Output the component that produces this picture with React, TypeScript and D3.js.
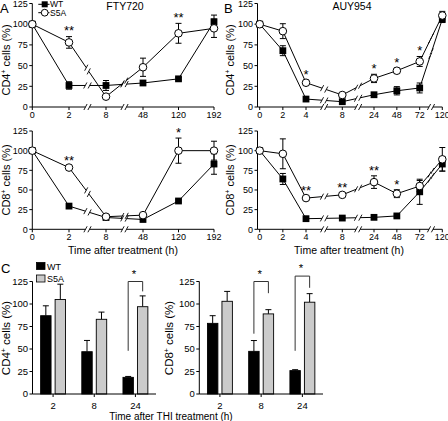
import React from "react";
import * as d3 from "d3";

const FONT = "'Liberation Sans', Arial, Helvetica, sans-serif";

// ---------- Panel A : FTY720 ----------
const ftyTimes = [0, 2, 8, 48, 120, 192];
const ftyBreaks = [[2, 8], [8, 48]];
const ftyCD4WT = [100, 26, 26, 29, 34, 103];
const ftyCD4WTErr = [0, 4.5, 6, 2, 1.5, 8];
const ftyCD4S5A = [100, 78, 12.5, 48, 89, 95];
const ftyCD4S5AErr = [0, 7, 2, 11, 12, 11];
const ftyCD4Stars = ["", "**", "", "", "**", ""];
const ftyCD8WT = [100, 29.5, 15, 12.5, 36, 83];
const ftyCD8WTErr = [0, 1.5, 1, 2, 1.5, 13];
const ftyCD8S5A = [100, 78.5, 16, 18, 100, 100];
const ftyCD8S5AErr = [0, 2, 2, 2, 16, 12];
const ftyCD8Stars = ["", "**", "", "", "*", ""];

// ---------- Panel B : AUY954 ----------
const auyTimes = [0, 2, 4, 8, 24, 48, 72, 120];
const auyBreaks = [[4, 8], [8, 24], [72, 120]];
const auyCD4WT = [100, 68, 9.6, 6.4, 14.8, 19.6, 23, 106];
const auyCD4WTErr = [0, 6, 1.5, 1.5, 2, 5, 6, 4];
const auyCD4S5A = [100, 91.6, 29.3, 14.5, 34.5, 43.8, 55, 110.5];
const auyCD4S5AErr = [0, 9, 3, 2, 5, 3, 6, 5];
const auyCD4Stars = ["", "", "*", "", "*", "*", "*", ""];
const auyCD8WT = [100, 64, 13.5, 14.3, 15.2, 17, 47.7, 83];
const auyCD8WTErr = [0, 7, 1, 1, 1, 1.5, 16, 9];
const auyCD8S5A = [100, 96, 39.7, 43.8, 60, 45.3, 55, 89];
const auyCD8S5AErr = [0, 19, 3, 2, 8, 5, 7, 15];
const auyCD8Stars = ["", "", "**", "**", "**", "*", "", ""];

const yTicks = [0, 25, 50, 75, 100, 125];

// ---------- Panel C : THI ----------
const thiTimes = ["2", "8", "24"];
const thiGroups = ["WT", "S5A"];
const thiCD4WT = [87, 47, 18.5];
const thiCD4WTErr = [11, 12.5, 1];
const thiCD4S5A = [105, 83, 97];
const thiCD4S5AErr = [17, 8, 12];
const thiCD8WT = [78.5, 47.4, 26];
const thiCD8WTErr = [8.5, 12, 1];
const thiCD8S5A = [103, 89, 102];
const thiCD8S5AErr = [11, 4.7, 9.5];
// [group, left leg value, top value, right leg value, label]
const thiCD4Brackets: [string, number, number, number, string][] = [["24", 48, 125, 114, "*"]];
const thiCD8Brackets: [string, number, number, number, string][] = [
  ["8", 67, 125, 112, "*"],
  ["24", 48, 131, 118, "*"],
];

type Series = { values: number[]; errs: number[]; kind: "WT" | "S5A" };

function YLabel({ x, y, cd, size }: { x: number; y: number; cd: string; size: number }) {
  return (
    <text transform={`translate(${x},${y}) rotate(-90)`} textAnchor="middle" fontSize={size} fontFamily={FONT}>
      {cd}
      <tspan dy={-4} fontSize={size * 0.6}>+</tspan>
      <tspan dy={4}> cells (%)</tspan>
    </text>
  );
}

function Slash({ x, y }: { x: number; y: number }) {
  return <line x1={x - 1.6} y1={y + 3} x2={x + 1.6} y2={y - 3} stroke="#000" strokeWidth={0.9} />;
}

function LinePanel(props: {
  times: number[];
  breaks: number[][];
  xDomain: number[];
  xRange: number[];
  yAxisX: number;
  yBottom: number;
  yTop: number;
  series: Series[];
  stars: string[];
}) {
  const { times, breaks, xDomain, xRange, yAxisX, yBottom, yTop, series, stars } = props;
  const x = d3.scaleLinear().domain(xDomain).range(xRange);
  const y = d3.scaleLinear().domain([0, 125]).range([yBottom, yTop]);
  const gap = 2;
  const breakX = (a: number, b: number) => (x(a) + x(b)) / 2;
  const bxs = breaks.map(([a, b]) => breakX(a, b));
  const xEnd = x(times[times.length - 1]);

  const stops = [yAxisX];
  bxs.forEach((b) => {
    stops.push(b - gap, b + gap);
  });
  stops.push(xEnd);
  const axisPieces: number[][] = [];
  for (let i = 0; i < stops.length; i += 2) axisPieces.push([stops[i], stops[i + 1]]);

  const line = d3.line<[number, number]>();

  const seriesPaths = series.map((s) => {
    const pieces: [number, number][][] = [];
    const marks: [number, number][] = [];
    let cur: [number, number][] = [[x(times[0]), y(s.values[0])]];
    for (let i = 0; i < times.length - 1; i++) {
      const p: [number, number] = [x(times[i]), y(s.values[i])];
      const q: [number, number] = [x(times[i + 1]), y(s.values[i + 1])];
      const br = breaks.find(([a, b]) => a === times[i] && b === times[i + 1]);
      if (br) {
        const bx = breakX(br[0], br[1]);
        const f = (bx - p[0]) / (q[0] - p[0]);
        const m = [p[0] + f * (q[0] - p[0]), p[1] + f * (q[1] - p[1])];
        const L = Math.hypot(q[0] - p[0], q[1] - p[1]);
        const u = [(q[0] - p[0]) / L, (q[1] - p[1]) / L];
        const g = 2.2;
        const a1: [number, number] = [m[0] - u[0] * g, m[1] - u[1] * g];
        const a2: [number, number] = [m[0] + u[0] * g, m[1] + u[1] * g];
        cur.push(a1);
        pieces.push(cur);
        marks.push(a1, a2);
        cur = [a2, q];
      } else {
        cur.push(q);
      }
    }
    pieces.push(cur);
    return { pieces, marks };
  });

  return (
    <g>
      <line x1={yAxisX} x2={yAxisX} y1={y(0)} y2={y(125)} stroke="#000" strokeWidth={1} />
      {yTicks.map((t) => (
        <g key={t}>
          <line x1={yAxisX - 3} x2={yAxisX} y1={y(t)} y2={y(t)} stroke="#000" strokeWidth={1} />
          <text x={yAxisX - 4.5} y={y(t) + 3.2} textAnchor="end" fontSize={9} fontFamily={FONT}>
            {t}
          </text>
        </g>
      ))}
      {axisPieces.map(([a, b], i) => (
        <line key={i} x1={a} x2={b} y1={y(0)} y2={y(0)} stroke="#000" strokeWidth={1} />
      ))}
      {bxs.map((b, i) => (
        <g key={i}>
          <Slash x={b - gap} y={y(0)} />
          <Slash x={b + gap} y={y(0)} />
        </g>
      ))}
      {times.map((t) => (
        <g key={t}>
          <line x1={x(t)} x2={x(t)} y1={y(0)} y2={y(0) + 3} stroke="#000" strokeWidth={1} />
          <text x={x(t)} y={y(0) + 11} textAnchor="middle" fontSize={9} fontFamily={FONT}>
            {t}
          </text>
        </g>
      ))}
      {seriesPaths.map((sp, si) => (
        <g key={si}>
          {sp.pieces.map((pc, i) => (
            <path key={i} d={line(pc) || ""} fill="none" stroke="#000" strokeWidth={1} />
          ))}
          {sp.marks.map((m, i) => (
            <Slash key={i} x={m[0]} y={m[1]} />
          ))}
        </g>
      ))}
      {series.map((s, si) =>
        times.map((t, i) =>
          s.errs[i] > 0 ? (
            <g key={`${si}-${i}`} stroke="#000" strokeWidth={1}>
              <line x1={x(t)} x2={x(t)} y1={y(s.values[i] - s.errs[i])} y2={y(s.values[i] + s.errs[i])} />
              <line x1={x(t) - 3} x2={x(t) + 3} y1={y(s.values[i] - s.errs[i])} y2={y(s.values[i] - s.errs[i])} />
              <line x1={x(t) - 3} x2={x(t) + 3} y1={y(s.values[i] + s.errs[i])} y2={y(s.values[i] + s.errs[i])} />
            </g>
          ) : null
        )
      )}
      {series.map((s, si) =>
        times.map((t, i) =>
          s.kind === "WT" ? (
            <rect key={`${si}-${i}`} x={x(t) - 3.4} y={y(s.values[i]) - 3.4} width={6.8} height={6.8} fill="#000" />
          ) : (
            <circle key={`${si}-${i}`} cx={x(t)} cy={y(s.values[i])} r={3.8} fill="#fff" stroke="#000" strokeWidth={1} />
          )
        )
      )}
      {stars.map((st, i) => {
        if (!st) return null;
        const top = Math.max(...series.map((s) => s.values[i] + s.errs[i]));
        const cy = y(top) - 8.5;
        return (
          <text key={i} x={x(times[i])} y={cy + 7.3} textAnchor="middle" fontSize={13} fontFamily={FONT}>
            {st}
          </text>
        );
      })}
    </g>
  );
}

function BarPanel(props: {
  yAxisX: number;
  xEnd: number;
  wt: number[];
  wtErr: number[];
  s5a: number[];
  s5aErr: number[];
  brackets: [string, number, number, number, string][];
}) {
  const { yAxisX, xEnd, wt, wtErr, s5a, s5aErr, brackets } = props;
  const y = d3.scaleLinear().domain([0, 125]).range([394, 281.5]);
  const pad = 0.395;
  const xb = d3.scaleBand().domain(thiTimes).range([yAxisX, xEnd]).paddingInner(pad).paddingOuter(pad / 2);
  const xi = d3.scaleBand().domain(thiGroups).range([0, xb.bandwidth()]).paddingInner(0.28);
  const vals: Record<string, number[]> = { WT: wt, S5A: s5a };
  const errs: Record<string, number[]> = { WT: wtErr, S5A: s5aErr };
  const fills: Record<string, string> = { WT: "#000", S5A: "#cbcbcb" };
  const center = (g: string, k: string) => (xb(g) as number) + (xi(k) as number) + xi.bandwidth() / 2;
  return (
    <g>
      <line x1={yAxisX} x2={yAxisX} y1={y(0)} y2={y(125)} stroke="#000" strokeWidth={1} />
      {yTicks.map((t) => (
        <g key={t}>
          <line x1={yAxisX - 3} x2={yAxisX} y1={y(t)} y2={y(t)} stroke="#000" strokeWidth={1} />
          <text x={yAxisX - 4.5} y={y(t) + 3.3} textAnchor="end" fontSize={9.5} fontFamily={FONT}>
            {t}
          </text>
        </g>
      ))}
      {thiTimes.map((g, gi) =>
        thiGroups.map((k) => {
          const v = vals[k][gi];
          const e = errs[k][gi];
          const bx = (xb(g) as number) + (xi(k) as number);
          const cx = bx + xi.bandwidth() / 2;
          return (
            <g key={g + k}>
              <line x1={cx} x2={cx} y1={y(v)} y2={y(v + e)} stroke="#000" strokeWidth={1} />
              <line x1={cx - 3} x2={cx + 3} y1={y(v + e)} y2={y(v + e)} stroke="#000" strokeWidth={1} />
              <rect x={bx} y={y(v)} width={xi.bandwidth()} height={y(0) - y(v)} fill={fills[k]} stroke="#000" strokeWidth={0.9} />
            </g>
          );
        })
      )}
      <line x1={yAxisX} x2={xEnd} y1={y(0)} y2={y(0)} stroke="#000" strokeWidth={1} />
      {thiTimes.map((g) => {
        const cx = (xb(g) as number) + xb.bandwidth() / 2;
        return (
          <g key={g}>
            <line x1={cx} x2={cx} y1={y(0)} y2={y(0) + 3} stroke="#000" strokeWidth={1} />
            <text x={cx} y={y(0) + 14.5} textAnchor="middle" fontSize={9.5} fontFamily={FONT}>
              {g}
            </text>
          </g>
        );
      })}
      {brackets.map(([g, l, t, r, lab], i) => {
        const xl = center(g, "WT");
        const xr = center(g, "S5A");
        return (
          <g key={i}>
            <path d={`M${xl},${y(l)}V${y(t)}H${xr}V${y(r)}`} fill="none" stroke="#333" strokeWidth={1} />
            <text x={(xl + xr) / 2 - 1.5} y={y(t) - 10.5 + 6.6} textAnchor="middle" fontSize={11.5} fontFamily={FONT}>
              {lab}
            </text>
          </g>
        );
      })}
    </g>
  );
}

export default function App() {
  return (
    <svg width={448} height={421} style={{ position: "absolute", left: 0, top: 0 }} fontFamily={FONT}>
      <rect width={448} height={421} fill="#fff" />
      <text x={0} y={13} fontSize={13} fontFamily={FONT}>A</text>
      <text x={224} y={13} fontSize={13} fontFamily={FONT}>B</text>
      <text x={1} y={273} fontSize={13} fontFamily={FONT}>C</text>

      <text x={125} y={10} textAnchor="middle" fontSize={10.5} fontFamily={FONT}>FTY720</text>
      <text x={352} y={10} textAnchor="middle" fontSize={10.5} fontFamily={FONT}>AUY954</text>

      {/* Legend A */}
      <line x1={38.3} x2={49.5} y1={4.3} y2={4.3} stroke="#000" strokeWidth={1} />
      <rect x={41.7} y={1.3} width={6} height={6} fill="#000" />
      <text x={50} y={7.3} fontSize={8.5} fontFamily={FONT}>WT</text>
      <line x1={38.3} x2={49.5} y1={12.7} y2={12.7} stroke="#000" strokeWidth={1} />
      <circle cx={44.7} cy={12.7} r={3.4} fill="#fff" stroke="#000" strokeWidth={1} />
      <text x={50} y={15.7} fontSize={8.5} fontFamily={FONT}>S5A</text>

      <LinePanel
        times={ftyTimes}
        breaks={ftyBreaks}
        xDomain={[0, 2, 8, 48, 192]}
        xRange={[32.3, 69, 106, 143, 214]}
        yAxisX={32.3}
        yBottom={107}
        yTop={3.5}
        series={[
          { values: ftyCD4WT, errs: ftyCD4WTErr, kind: "WT" },
          { values: ftyCD4S5A, errs: ftyCD4S5AErr, kind: "S5A" },
        ]}
        stars={ftyCD4Stars}
      />
      <LinePanel
        times={ftyTimes}
        breaks={ftyBreaks}
        xDomain={[0, 2, 8, 48, 192]}
        xRange={[32.3, 69, 106, 143, 214]}
        yAxisX={32.3}
        yBottom={229.3}
        yTop={131}
        series={[
          { values: ftyCD8WT, errs: ftyCD8WTErr, kind: "WT" },
          { values: ftyCD8S5A, errs: ftyCD8S5AErr, kind: "S5A" },
        ]}
        stars={ftyCD8Stars}
      />
      <YLabel x={9.5} y={60} cd="CD4" size={11} />
      <YLabel x={9.5} y={180} cd="CD8" size={11} />
      <text x={123} y={253.5} textAnchor="middle" fontSize={10.5} fontFamily={FONT}>Time after treatment (h)</text>

      <LinePanel
        times={auyTimes}
        breaks={auyBreaks}
        xDomain={[0, 4, 8, 24, 72, 120]}
        xRange={[259.7, 306, 342.3, 374, 419.7, 442.3]}
        yAxisX={257.5}
        yBottom={107}
        yTop={3.5}
        series={[
          { values: auyCD4WT, errs: auyCD4WTErr, kind: "WT" },
          { values: auyCD4S5A, errs: auyCD4S5AErr, kind: "S5A" },
        ]}
        stars={auyCD4Stars}
      />
      <LinePanel
        times={auyTimes}
        breaks={auyBreaks}
        xDomain={[0, 4, 8, 24, 72, 120]}
        xRange={[259.7, 306, 342.3, 374, 419.7, 442.3]}
        yAxisX={257.5}
        yBottom={229.3}
        yTop={131}
        series={[
          { values: auyCD8WT, errs: auyCD8WTErr, kind: "WT" },
          { values: auyCD8S5A, errs: auyCD8S5AErr, kind: "S5A" },
        ]}
        stars={auyCD8Stars}
      />
      <YLabel x={233.5} y={60} cd="CD4" size={11} />
      <YLabel x={233.5} y={180} cd="CD8" size={11} />
      <text x={349} y={253.5} textAnchor="middle" fontSize={10.5} fontFamily={FONT}>Time after treatment (h)</text>

      {/* Panel C legend */}
      <rect x={36.5} y={262.5} width={8.5} height={7} fill="#000" stroke="#000" strokeWidth={0.8} />
      <text x={47} y={269.5} fontSize={9} fontFamily={FONT}>WT</text>
      <rect x={36.5} y={275} width={8.5} height={7} fill="#cbcbcb" stroke="#000" strokeWidth={0.8} />
      <text x={47} y={282} fontSize={9} fontFamily={FONT}>S5A</text>

      <BarPanel
        yAxisX={32.5}
        xEnd={156}
        wt={thiCD4WT}
        wtErr={thiCD4WTErr}
        s5a={thiCD4S5A}
        s5aErr={thiCD4S5AErr}
        brackets={thiCD4Brackets}
      />
      <BarPanel
        yAxisX={199.3}
        xEnd={323}
        wt={thiCD8WT}
        wtErr={thiCD8WTErr}
        s5a={thiCD8S5A}
        s5aErr={thiCD8S5AErr}
        brackets={thiCD8Brackets}
      />
      <YLabel x={9.5} y={338} cd="CD4" size={11.5} />
      <YLabel x={173} y={338} cd="CD8" size={11.5} />
      <text x={171} y={419.5} textAnchor="middle" fontSize={10} fontFamily={FONT}>Time after THI treatment (h)</text>
    </svg>
  );
}
